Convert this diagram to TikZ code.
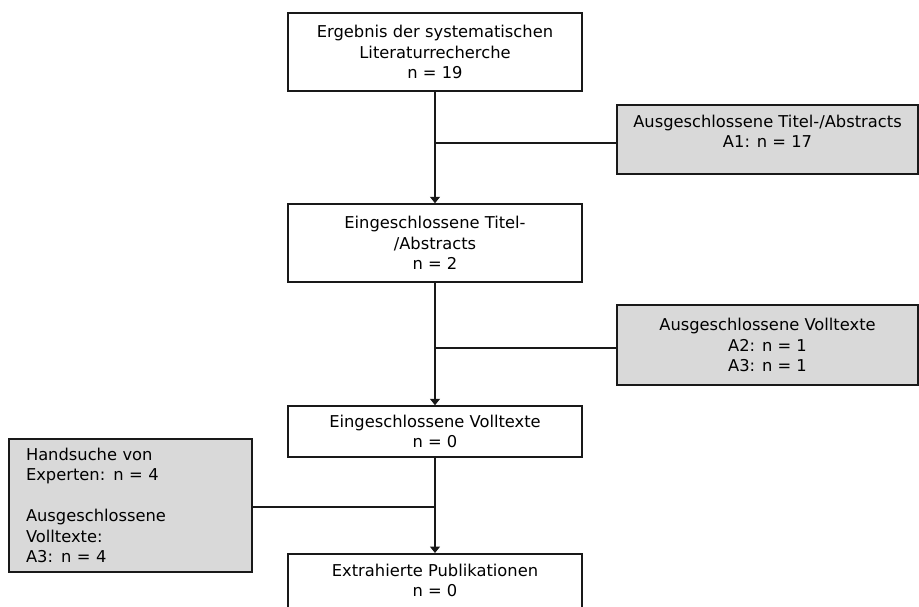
\documentclass[tikz,border=0pt]{standalone}
\usepackage{fontspec}
\setmainfont{DejaVu Sans}
\usetikzlibrary{arrows.meta}
\definecolor{boxgray}{RGB}{217,217,217}
\begin{document}
\begin{tikzpicture}[x=1pt,y=-1pt,
  every node/.style={font=\fontsize{16.3}{20.5}\selectfont},
  mainbox/.style={draw=black!90, line width=1.5pt, fill=white, minimum width=294pt, align=center, inner sep=0pt},
  exclbox/.style={draw=black!90, line width=1.5pt, fill=boxgray, align=center, inner sep=0pt},
  link/.style={line width=1.3pt, draw=black!90},
  arr/.style={link, -{Triangle[length=6.5pt,width=10pt]}}]
\useasboundingbox (0,0) rectangle (919,606);

\node[mainbox, minimum height=78pt] (b1) at (435,52)
  {Ergebnis der systematischen\\Literaturrecherche\\n = 19};
\node[mainbox, minimum height=78pt] (b2) at (435,243)
  {Eingeschlossene Titel-\\/Abstracts\\n = 2};
\node[mainbox, minimum height=51pt] (b3) at (435,431.5)
  {Eingeschlossene Volltexte\\n = 0};
\node[mainbox, anchor=north, inner ysep=10pt] (b4) at (435,553)
  {Extrahierte Publikationen\\n = 0\\\mbox{}\\\mbox{}};

\node[exclbox, minimum width=301pt, minimum height=69pt] (a1) at (767.5,139.5)
  {Ausgeschlossene Titel-/Abstracts\\A1: n = 17\\[-4pt]\mbox{}};
\node[exclbox, minimum width=301pt, minimum height=80pt] (a2) at (767.5,345)
  {Ausgeschlossene Volltexte\\A2: n = 1\\A3: n = 1};
\node[exclbox, align=left, text width=209pt, inner xsep=17pt, minimum height=133pt] (hand) at (130.5,505.5)
  {Handsuche von\\Experten: n = 4\\\mbox{}\\Ausgeschlossene\\Volltexte:\\A3: n = 4};

\draw[arr] (b1) -- (b2);
\draw[arr] (b2) -- (b3);
\draw[arr] (b3) -- (b4);
\draw[link] ([yshift=-3.5pt]a1.west) -- ([yshift=-3.5pt]a1.west -| b1.south);
\draw[link] ([yshift=-3pt]a2.west) -- ([yshift=-3pt]a2.west -| b2.south);
\draw[link] ([yshift=-1.5pt]hand.east) -- ([yshift=-1.5pt]hand.east -| b3.south);
\end{tikzpicture}
\end{document}
